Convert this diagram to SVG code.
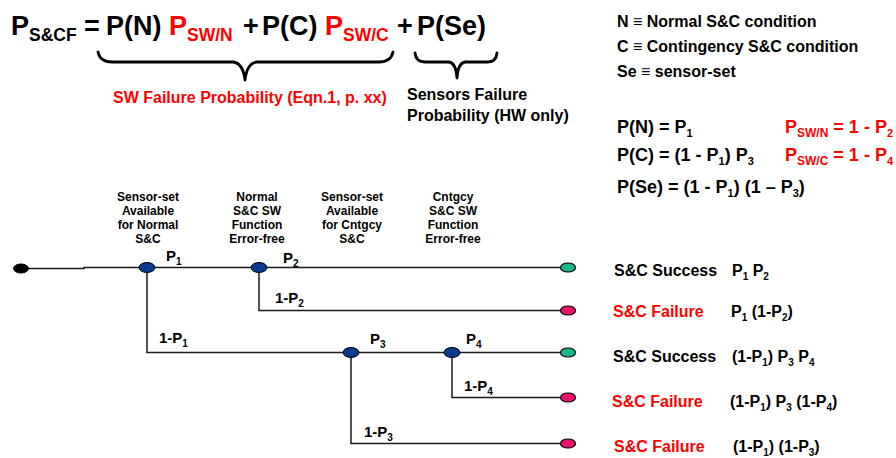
<svg xmlns="http://www.w3.org/2000/svg" width="896" height="458" viewBox="0 0 896 458">
<defs>
<style>
text{font-family:"Liberation Sans",Arial,sans-serif;font-weight:bold;fill:#000}
.big{font-size:27px}
.bsub{font-size:17.5px}
.red{fill:#ff0000}
.leg{font-size:16px}
.eq{font-size:18px}
.hdr{font-size:12px;text-anchor:middle}
.lbl{font-size:15px}
.res{font-size:16px}
.brace{fill:none;stroke:#000;stroke-width:2.8;stroke-linecap:round;stroke-linejoin:round}
.wire{fill:none;stroke:#1a1a1a;stroke-width:1.5}
.start{fill:#000;stroke:#000;stroke-width:1}
.dec{fill:#0a3a8c;stroke:#000;stroke-width:1}
.ok{fill:#17b68b;stroke:#000;stroke-width:1.2}
.bad{fill:#e8146a;stroke:#000;stroke-width:1.2}
</style>
</defs>

<g id="equation">
<text class="big" x="11" y="35">P</text>
<text class="bsub" x="29" y="41">S&amp;CF</text>
<text class="big" x="84" y="35">=</text>
<text class="big" x="106" y="35">P(N)</text>
<text class="big red" x="169" y="35">P</text>
<text class="bsub red" x="187" y="41">SW/N</text>
<text class="big" x="243" y="35">+</text>
<text class="big" x="262" y="35">P(C)</text>
<text class="big red" x="325" y="35">P</text>
<text class="bsub red" x="343" y="41">SW/C</text>
<text class="big" x="397" y="35">+</text>
<text class="big" x="417" y="35">P(Se)</text>
</g>

<g id="braces">
<path class="brace" d="M98,52 Q100,62 112,62 L233,62 Q243,63 245,80 Q247,63 257,62 L379,62 Q391,62 393,52"/>
<path class="brace" d="M415,53 Q416,62 425,62 L449,62 Q456,63 457,78 Q458,63 465,62 L488,62 Q496,62 497,53"/>
<text class="res red" x="113" y="103">SW Failure Probability (Eqn.1, p. xx)</text>
<text class="res" x="407" y="100">Sensors Failure</text>
<text class="res" x="407" y="121">Probability (HW only)</text>
</g>

<g id="legend">
<text class="leg" x="617" y="27">N ≡ Normal S&amp;C condition</text>
<text class="leg" x="617" y="52">C ≡ Contingency S&amp;C condition</text>
<text class="leg" x="617" y="77">Se ≡ sensor-set</text>
<text class="eq" x="617" y="133">P(N) = P<tspan font-size="11" dy="4">1</tspan></text>
<text class="eq" x="617" y="161">P(C) = (1 - P<tspan font-size="11" dy="4">1</tspan><tspan dy="-4">) P</tspan><tspan font-size="11" dy="4">3</tspan></text>
<text class="eq" x="617" y="193">P(Se) = (1 - P<tspan font-size="11" dy="4">1</tspan><tspan dy="-4">) (1 – P</tspan><tspan font-size="11" dy="4">3</tspan><tspan dy="-4">)</tspan></text>
<text class="eq red" x="785" y="133">P<tspan font-size="12" dy="4">SW/N</tspan><tspan dy="-4"> = 1 - P</tspan><tspan font-size="11" dy="4">2</tspan></text>
<text class="eq red" x="785" y="161">P<tspan font-size="12" dy="4">SW/C</tspan><tspan dy="-4"> = 1 - P</tspan><tspan font-size="11" dy="4">4</tspan></text>
</g>

<g id="headers">
<text class="hdr" x="148" y="201">Sensor-set</text>
<text class="hdr" x="148" y="215">Available</text>
<text class="hdr" x="148" y="229">for Normal</text>
<text class="hdr" x="148" y="243">S&amp;C</text>
<text class="hdr" x="257" y="201">Normal</text>
<text class="hdr" x="257" y="215">S&amp;C SW</text>
<text class="hdr" x="257" y="229">Function</text>
<text class="hdr" x="257" y="243">Error-free</text>
<text class="hdr" x="352" y="201">Sensor-set</text>
<text class="hdr" x="352" y="215">Available</text>
<text class="hdr" x="352" y="229">for Cntgcy</text>
<text class="hdr" x="352" y="243">S&amp;C</text>
<text class="hdr" x="453" y="201">Cntgcy</text>
<text class="hdr" x="453" y="215">S&amp;C SW</text>
<text class="hdr" x="453" y="229">Function</text>
<text class="hdr" x="453" y="243">Error-free</text>
</g>

<g id="connectors">
<path class="wire" d="M21,268.5 H84 V267.5 H568"/>
<path class="wire" d="M259,267.5 V310.5 H568"/>
<path class="wire" d="M147,267.5 V352.5 H568"/>
<path class="wire" d="M452,352.5 V397.5 H568"/>
<path class="wire" d="M351,352.5 V443.5 H568"/>
<text class="lbl" x="166" y="261">P<tspan font-size="10" dy="4">1</tspan></text>
<text class="lbl" x="283" y="263">P<tspan font-size="10" dy="4">2</tspan></text>
<text class="lbl" x="275" y="303">1-P<tspan font-size="10" dy="4">2</tspan></text>
<text class="lbl" x="159" y="343">1-P<tspan font-size="10" dy="4">1</tspan></text>
<text class="lbl" x="370" y="344">P<tspan font-size="10" dy="4">3</tspan></text>
<text class="lbl" x="466" y="344">P<tspan font-size="10" dy="4">4</tspan></text>
<text class="lbl" x="464" y="391">1-P<tspan font-size="10" dy="4">4</tspan></text>
<text class="lbl" x="364" y="437">1-P<tspan font-size="10" dy="4">3</tspan></text>
</g>

<g id="n-start"><ellipse class="start" cx="21" cy="268.5" rx="7.5" ry="4.5"/></g>
<g id="n-p1"><ellipse class="dec" cx="147" cy="267.5" rx="8" ry="5"/></g>
<g id="n-p2"><ellipse class="dec" cx="259" cy="267.5" rx="8" ry="5"/></g>
<g id="n-p3"><ellipse class="dec" cx="351" cy="352.5" rx="8" ry="5"/></g>
<g id="n-p4"><ellipse class="dec" cx="452" cy="352.5" rx="8" ry="5"/></g>

<g id="end1"><ellipse class="ok" cx="568" cy="267.5" rx="7.5" ry="4.5"/>
<text class="res" x="614" y="276">S&amp;C Success</text>
<text class="res" x="732" y="276">P<tspan font-size="10" dy="4">1</tspan><tspan dy="-4"> P</tspan><tspan font-size="10" dy="4">2</tspan></text></g>
<g id="end2"><ellipse class="bad" cx="568" cy="310.5" rx="7.5" ry="4.5"/>
<text class="res red" x="613" y="317">S&amp;C Failure</text>
<text class="res" x="731" y="317">P<tspan font-size="10" dy="4">1</tspan><tspan dy="-4"> (1-P</tspan><tspan font-size="10" dy="4">2</tspan><tspan dy="-4">)</tspan></text></g>
<g id="end3"><ellipse class="ok" cx="568" cy="352.5" rx="7.5" ry="4.5"/>
<text class="res" x="613" y="362">S&amp;C Success</text>
<text class="res" x="732" y="362">(1-P<tspan font-size="10" dy="4">1</tspan><tspan dy="-4">) P</tspan><tspan font-size="10" dy="4">3</tspan><tspan dy="-4"> P</tspan><tspan font-size="10" dy="4">4</tspan></text></g>
<g id="end4"><ellipse class="bad" cx="568" cy="397.5" rx="7.5" ry="4.5"/>
<text class="res red" x="612" y="407">S&amp;C Failure</text>
<text class="res" x="730" y="407">(1-P<tspan font-size="10" dy="4">1</tspan><tspan dy="-4">) P</tspan><tspan font-size="10" dy="4">3</tspan><tspan dy="-4"> (1-P</tspan><tspan font-size="10" dy="4">4</tspan><tspan dy="-4">)</tspan></text></g>
<g id="end5"><ellipse class="bad" cx="568" cy="443.5" rx="7.5" ry="4.5"/>
<text class="res red" x="614" y="452">S&amp;C Failure</text>
<text class="res" x="733" y="452">(1-P<tspan font-size="10" dy="4">1</tspan><tspan dy="-4">) (1-P</tspan><tspan font-size="10" dy="4">3</tspan><tspan dy="-4">)</tspan></text></g>
</svg>
